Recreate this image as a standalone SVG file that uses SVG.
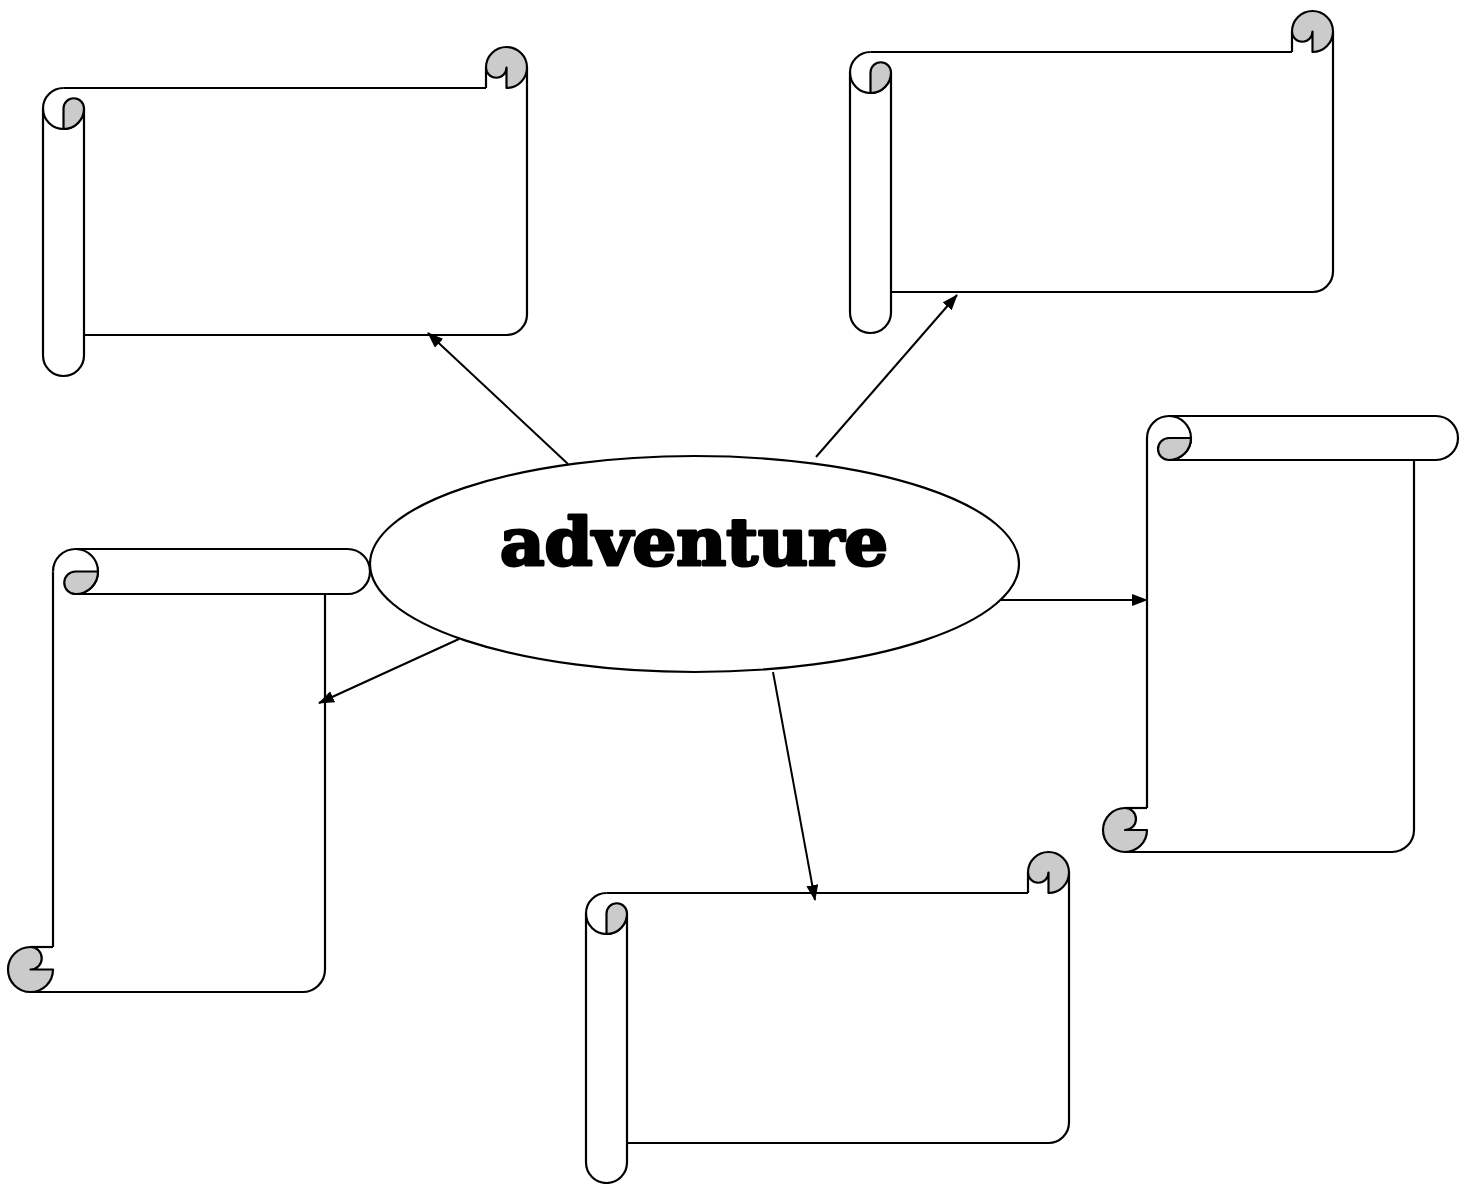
<svg xmlns="http://www.w3.org/2000/svg" width="1466" height="1184" viewBox="0 0 1466 1184">
<style>
.o{fill:none;stroke:#000;stroke-width:2.2;stroke-linejoin:round}
.g{fill:#cbcbcb;stroke:#000;stroke-width:2.2;stroke-linejoin:round}
.c{fill:none;stroke:#000;stroke-width:2}
</style>
<defs>
<marker id="ah" viewBox="0 0 16 12" refX="15" refY="6" markerWidth="16" markerHeight="12" markerUnits="userSpaceOnUse" orient="auto">
<path d="M0,0 L16,6 L0,12 z" fill="#000"/>
</marker>
</defs>
<rect width="1466" height="1184" fill="#fff"/>
<g id="scroll-top-left">
<path class="o" d="M43,108.5 V355.5 A20.5 20.5 0 0 0 84,355.5 V108.5"/>
<path class="o" d="M63.5,88 H486 M527,67.5 V314.5 A20.5 20.5 0 0 1 506.5,335 H84"/>
<path class="o" d="M63.5,88 A20.5 20.5 0 1 0 84,108.5"/>
<path class="g" d="M63.5,129 V108.5 A10.25 10.25 0 0 1 84,108.5 A20.5 20.5 0 0 1 63.5,129 Z"/>
<path class="o" d="M486,88 V67.5"/>
<path class="g" d="M506.5,88 A20.5 20.5 0 1 0 486,67.5 A10.25 10.25 0 0 0 506.5,67.5 Z"/>
</g>
<g id="scroll-top-right">
<path class="o" d="M850,72.5 V312.5 A20.5 20.5 0 0 0 891,312.5 V72.5"/>
<path class="o" d="M870.5,52 H1292 M1333,31.5 V271.5 A20.5 20.5 0 0 1 1312.5,292 H891"/>
<path class="o" d="M870.5,52 A20.5 20.5 0 1 0 891,72.5"/>
<path class="g" d="M870.5,93 V72.5 A10.25 10.25 0 0 1 891,72.5 A20.5 20.5 0 0 1 870.5,93 Z"/>
<path class="o" d="M1292,52 V31.5"/>
<path class="g" d="M1312.5,52 A20.5 20.5 0 1 0 1292,31.5 A10.25 10.25 0 0 0 1312.5,31.5 Z"/>
</g>
<g id="scroll-bottom">
<path class="o" d="M586,913.5 V1162.5 A20.5 20.5 0 0 0 627,1162.5 V913.5"/>
<path class="o" d="M606.5,893 H1028 M1069,872.5 V1122.5 A20.5 20.5 0 0 1 1048.5,1143 H627"/>
<path class="o" d="M606.5,893 A20.5 20.5 0 1 0 627,913.5"/>
<path class="g" d="M606.5,934 V913.5 A10.25 10.25 0 0 1 627,913.5 A20.5 20.5 0 0 1 606.5,934 Z"/>
<path class="o" d="M1028,893 V872.5"/>
<path class="g" d="M1048.5,893 A20.5 20.5 0 1 0 1028,872.5 A10.25 10.25 0 0 0 1048.5,872.5 Z"/>
</g>
<g id="scroll-left">
<path class="o" d="M75.5,549 H347.5 A22.5 22.5 0 0 1 347.5,594 H75.5"/>
<path class="o" d="M53,571.5 V947 M30.5,992 H302.5 A22.5 22.5 0 0 0 325,969.5 V594"/>
<path class="o" d="M53,571.5 A22.5 22.5 0 1 1 75.5,594"/>
<path class="g" d="M98,571.5 H75.5 A11.25 11.25 0 0 0 75.5,594 A22.5 22.5 0 0 0 98,571.5 Z"/>
<path class="o" d="M53,947 H30.5"/>
<path class="g" d="M53,969.5 A22.5 22.5 0 1 1 30.5,947 A11.25 11.25 0 0 1 30.5,969.5 Z"/>
</g>
<g id="scroll-right">
<path class="o" d="M1169,416 H1436 A22 22 0 0 1 1436,460 H1169"/>
<path class="o" d="M1147,438 V808 M1125,852 H1392 A22 22 0 0 0 1414,830 V460"/>
<path class="o" d="M1147,438 A22 22 0 1 1 1169,460"/>
<path class="g" d="M1191,438 H1169 A11 11 0 0 0 1169,460 A22 22 0 0 0 1191,438 Z"/>
<path class="o" d="M1147,808 H1125"/>
<path class="g" d="M1147,830 A22 22 0 1 1 1125,808 A11 11 0 0 1 1125,830 Z"/>
</g>
<g id="center">
<ellipse class="o" cx="694.5" cy="564" rx="324.5" ry="108"/>
<text x="694" y="565" text-anchor="middle" font-family="DejaVu Serif, serif" font-weight="bold" font-size="66" stroke="#000" stroke-width="3" stroke-linejoin="round" textLength="388" lengthAdjust="spacingAndGlyphs">adventure</text>
</g>
<g id="connectors">
<line class="c" x1="568" y1="464" x2="428" y2="333" marker-end="url(#ah)"/>
<line class="c" x1="816" y1="457" x2="957" y2="295" marker-end="url(#ah)"/>
<line class="c" x1="1001" y1="600" x2="1147" y2="600" marker-end="url(#ah)"/>
<line class="c" x1="773" y1="672" x2="815" y2="900" marker-end="url(#ah)"/>
<line class="c" x1="459" y1="639" x2="319" y2="703" marker-end="url(#ah)"/>
</g>
</svg>
